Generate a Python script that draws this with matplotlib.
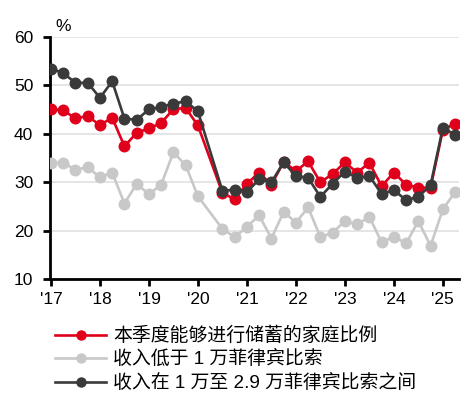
import matplotlib
matplotlib.use("Agg")
import matplotlib.pyplot as plt

plt.rcParams['font.family'] = ['Liberation Sans', 'Noto Sans CJK SC', 'DejaVu Sans']

# quarters (2020 Q2 survey not conducted)
quarters = ["2017Q1", "2017Q2", "2017Q3", "2017Q4",
            "2018Q1", "2018Q2", "2018Q3", "2018Q4",
            "2019Q1", "2019Q2", "2019Q3", "2019Q4",
            "2020Q1", "2020Q3", "2020Q4",
            "2021Q1", "2021Q2", "2021Q3", "2021Q4",
            "2022Q1", "2022Q2", "2022Q3", "2022Q4",
            "2023Q1", "2023Q2", "2023Q3", "2023Q4",
            "2024Q1", "2024Q2", "2024Q3", "2024Q4",
            "2025Q1", "2025Q2"]

savers_all = [45.1, 44.8, 43.2, 43.6,
              41.8, 43.3, 37.4, 40.2,
              41.1, 42.2, 45.1, 45.3,
              41.7, 27.8, 26.5,
              29.7, 32.0, 29.5, 34.2,
              32.3, 34.3, 30.0, 31.7,
              34.1, 32.0, 34.0, 29.2,
              32.0, 29.5, 28.9, 28.9,
              40.8, 42.1]

savers_low = [34.0, 34.0, 32.6, 33.1,
              31.0, 32.0, 25.6, 29.7,
              27.5, 29.5, 36.2, 33.5,
              27.1, 20.4, 18.7,
              20.8, 23.2, 18.4, 23.9,
              21.7, 24.8, 18.7, 19.6,
              22.0, 21.3, 22.9, 17.6,
              18.8, 17.4, 22.0, 16.9,
              24.4, 28.0]

savers_mid = [53.4, 52.5, 50.5, 50.5,
              47.4, 50.8, 43.1, 42.9,
              45.0, 45.5, 46.2, 46.7,
              44.6, 28.2, 28.5,
              28.0, 30.6, 30.0, 34.1,
              31.3, 30.9, 27.0, 29.7,
              32.2, 30.9, 31.3, 27.6,
              28.4, 26.3, 27.0, 29.4,
              41.2, 39.8]

year_ticks = [2017, 2018, 2019, 2020, 2021, 2022, 2023, 2024, 2025]
year_labels = ["'17", "'18", "'19", "'20", "'21", "'22", "'23", "'24", "'25"]
y_ticks = [10, 20, 30, 40, 50, 60]

labels = ["本季度能够进行储蓄的家庭比例",
          "收入低于 1 万菲律宾比索",
          "收入在 1 万至 2.9 万菲律宾比索之间"]

x = [int(q[:4]) + (int(q[-1]) - 1) / 4 for q in quarters]

RED = "#e0001b"
GRAY = "#c8c8c8"
DARK = "#3a3a3a"

fig = plt.figure(figsize=(4.72, 3.99), dpi=100)
ax = fig.add_axes([50 / 472, 1 - 279.3 / 399, 409 / 472, 242.6 / 399])

lw = 1.9
ms = 8.6
l_low, = ax.plot(x, savers_low, color=GRAY, lw=lw, marker='o', ms=ms, mew=0, zorder=3)
l_all, = ax.plot(x, savers_all, color=RED, lw=lw, marker='o', ms=ms, mew=0, zorder=4)
l_mid, = ax.plot(x, savers_mid, color=DARK, lw=lw, marker='o', ms=ms, mew=0, zorder=5)

ax.set_xlim(2016.98, 2025.33)
ax.set_ylim(10, 60)
ax.set_xticks(year_ticks)
ax.set_xticklabels(year_labels)
ax.set_yticks(y_ticks)

ax.grid(axis='y', color='#e0e0e0', lw=1.2)
ax.set_axisbelow(True)
for s in ['top', 'right']:
    ax.spines[s].set_visible(False)
for s in ['left', 'bottom']:
    ax.spines[s].set_linewidth(2)
    ax.spines[s].set_color('black')
ax.tick_params(axis='both', length=5, width=2, labelsize=12.5, colors='black')
ax.tick_params(axis='y', pad=7)
ax.tick_params(axis='x', pad=4)

ax.text(0.013, 1.012, "%", transform=ax.transAxes, fontsize=12.5, ha='left', va='bottom')

leg = fig.legend([l_all, l_low, l_mid], labels, loc='upper left',
                 bbox_to_anchor=(55 / 472, 1 - 327 / 399), frameon=False,
                 fontsize=13.6, handlelength=2.7, handletextpad=0.37,
                 labelspacing=0.29, borderaxespad=0, borderpad=0)
for h in leg.legend_handles:
    h.set_markersize(7.5)
    h.set_linewidth(1.9)

fig.savefig("out.png", dpi=100)
